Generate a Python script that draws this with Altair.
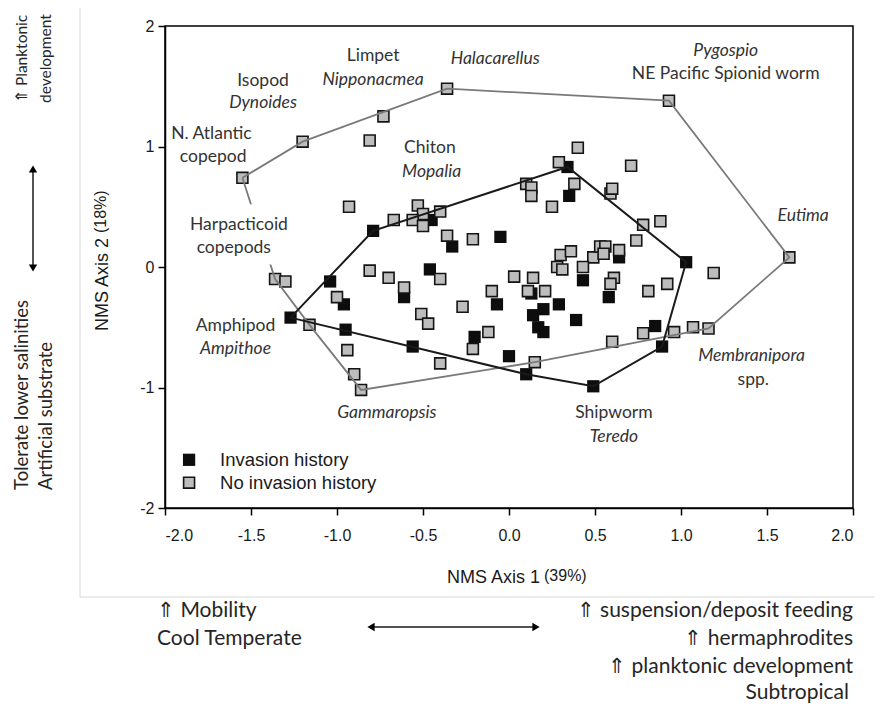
import altair as alt
import pandas as pd

# ---------------- data ----------------
gray_x = [-1.55, -1.20, -0.73, -0.36, 0.93, 1.63, 1.16, 1.07, -0.86, -0.90, -0.94, -1.16,
          -1.36, -1.30, -0.81, -0.93, -0.67, -0.53, -0.50, -0.56, -0.50, -0.40, -0.36, -0.21,
          -0.81, -0.70, -0.61, -0.40, -1.00, -0.27, -0.51, -0.47, -0.40, -0.21, -0.12, 0.15,
          0.40, 0.29, 0.71, 0.10, 0.13, 0.13, 0.38, 0.25, 0.59, 0.60, 0.78, 0.88,
          0.74, 1.19, 0.30, 0.36, 0.28, 0.31, 0.49, 0.53, 0.56, 0.55, 0.64, 0.43,
          0.61, 0.59, 0.92, 0.81, 0.03, 0.14, -0.10, 0.11, 0.21, 0.60, 0.78, 0.96]
gray_y = [0.74, 1.04, 1.25, 1.48, 1.38, 0.08, -0.51, -0.50, -1.02, -0.89, -0.69, -0.48,
          -0.10, -0.12, 1.05, 0.50, 0.39, 0.51, 0.44, 0.39, 0.34, 0.46, 0.26, 0.23,
          -0.03, -0.09, -0.17, -0.10, -0.25, -0.33, -0.39, -0.47, -0.80, -0.68, -0.54, -0.79,
          0.99, 0.87, 0.84, 0.69, 0.66, 0.59, 0.69, 0.50, 0.61, 0.65, 0.35, 0.38,
          0.22, -0.05, 0.10, 0.13, 0.00, -0.02, 0.08, 0.17, 0.17, 0.11, 0.14, 0.00,
          -0.09, -0.14, -0.14, -0.20, -0.08, -0.09, -0.20, -0.20, -0.20, -0.62, -0.55, -0.54]

black_x = [-1.27, -0.79, 0.34, 1.03, 0.89, 0.49, 0.10, -0.56, -0.95, -1.04, -0.45, -0.33,
           -0.05, -0.46, -0.61, -0.96, -0.20, 0.35, 0.64, 0.43, 0.58, -0.07, 0.20, 0.14,
           0.29, 0.39, 0.17, 0.20, 0.00, 0.85, 0.13]
black_y = [-0.42, 0.30, 0.83, 0.04, -0.66, -0.99, -0.89, -0.66, -0.52, -0.12, 0.39, 0.17,
           0.25, -0.02, -0.25, -0.31, -0.58, 0.59, 0.08, -0.11, -0.25, -0.31, -0.35, -0.40,
           -0.31, -0.44, -0.50, -0.54, -0.74, -0.49, -0.22]

x_ticks = [-2.0, -1.5, -1.0, -0.5, 0.0, 0.5, 1.0, 1.5, 2.0]
y_ticks = [-2, -1, 0, 1, 2]

# species annotations (data units)
lab_text = ["Isopod", "Dynoides", "Limpet", "Nipponacmea", "Halacarellus", "N. Atlantic",
            "copepod", "Chiton", "Mopalia", "Harpacticoid", "copepods", "Pygospio",
            "NE Pacific Spionid worm", "Eutima", "Amphipod", "Ampithoe", "Gammaropsis",
            "Membranipora", "spp.", "Shipworm", "Teredo"]
lab_x = [-1.43, -1.43, -0.79, -0.79, -0.08, -1.73, -1.72, -0.46, -0.45, -1.57, -1.60,
         1.26, 1.26, 1.71, -1.59, -1.59, -0.71, 1.41, 1.42, 0.61, 0.61]
lab_y = [1.54, 1.36, 1.75, 1.55, 1.73, 1.10, 0.91, 0.99, 0.79, 0.35, 0.16,
         1.79, 1.60, 0.42, -0.49, -0.68, -1.21, -0.74, -0.94, -1.21, -1.41]
lab_italic = [False, True, False, True, True, False, False, False, True, False, False,
              True, False, True, False, True, True, True, False, False, True]


# ---------------- helpers ----------------
def convex_hull(xs, ys):
    pts = sorted(set(zip(xs, ys)))

    def cross(o, a, b):
        return (a[0] - o[0]) * (b[1] - o[1]) - (a[1] - o[1]) * (b[0] - o[0])

    lower, upper = [], []
    for p in pts:
        while len(lower) >= 2 and cross(lower[-2], lower[-1], p) <= 0:
            lower.pop()
        lower.append(p)
    for p in reversed(pts):
        while len(upper) >= 2 and cross(upper[-2], upper[-1], p) <= 0:
            upper.pop()
        upper.append(p)
    h = lower[:-1] + upper[:-1]
    h.append(h[0])
    return pd.DataFrame({"x": [p[0] for p in h], "y": [p[1] for p in h], "o": list(range(len(h)))})


sx = alt.Scale(domain=[-2, 2], nice=False, zero=False)
sy = alt.Scale(domain=[-2, 2], nice=False, zero=False)

AX = dict(labelFont="Liberation Sans", labelFontSize=16, labelColor="#1a1a1a",
          tickColor="black", tickWidth=1.5, tickSize=7, domainColor="black",
          domainWidth=1.5, grid=False, title=None)

xaxis = alt.Axis(values=x_ticks, labelPadding=12,
                 labelExpr="datum.value < 0 ? '-' + format(-datum.value, '.1f') : format(datum.value, '.1f')",
                 **AX)
yaxis = alt.Axis(values=y_ticks, labelPadding=4,
                 labelExpr="datum.value < 0 ? '-' + format(-datum.value, 'd') : format(datum.value, 'd')",
                 **AX)


def X(field="x:Q"):
    return alt.X(field, scale=sx, axis=xaxis)


def Y(field="y:Q"):
    return alt.Y(field, scale=sy, axis=yaxis)


gray_df = pd.DataFrame({"x": gray_x, "y": gray_y})
black_df = pd.DataFrame({"x": black_x, "y": black_y})
lab_df = pd.DataFrame({"t": lab_text, "x": lab_x, "y": lab_y, "it": lab_italic})

layers = []

# black points, then gray points
layers.append(alt.Chart(black_df).mark_square(size=150, filled=True, color="#0d0d0d", opacity=1)
              .encode(x=X(), y=Y()))
layers.append(alt.Chart(gray_df).mark_square(size=120, filled=True, fill="#bdbdbd", stroke="#141414",
                                             strokeWidth=1.6, opacity=1)
              .encode(x=X(), y=Y()))

# hulls
layers.append(alt.Chart(convex_hull(gray_x, gray_y)).mark_line(color="#7a7a7a", strokeWidth=1.8)
              .encode(x=X(), y=Y(), order="o:Q"))
layers.append(alt.Chart(convex_hull(black_x, black_y)).mark_line(color="#1a1a1a", strokeWidth=2)
              .encode(x=X(), y=Y(), order="o:Q"))

# white patch behind the Harpacticoid label (hides the hull line as in the original)
patch = pd.DataFrame({"x": [-1.53], "x2": [-1.33], "y": [0.52], "y2": [0.02]})
layers.append(alt.Chart(patch).mark_rect(color="white", opacity=1)
              .encode(x=X(), x2="x2:Q", y=Y(), y2="y2:Q"))

# species labels
layers.append(alt.Chart(lab_df).transform_filter("!datum.it")
              .mark_text(font="Lato", fontSize=17.5, color="#333333", baseline="middle")
              .encode(x=X(), y=Y(), text="t:N"))
layers.append(alt.Chart(lab_df).transform_filter("datum.it")
              .mark_text(font="Lato", fontSize=17.5, fontStyle="italic", color="#333333", baseline="middle")
              .encode(x=X(), y=Y(), text="t:N"))

# legend (manual)
leg = pd.DataFrame({"x": [-1.86, -1.86], "y": [-1.60, -1.79],
                    "t": ["Invasion history", "No invasion history"], "tx": [-1.68, -1.68]})
layers.append(alt.Chart(leg.iloc[[0]]).mark_square(size=150, filled=True, color="#0d0d0d", opacity=1)
              .encode(x=X(), y=Y()))
layers.append(alt.Chart(leg.iloc[[1]]).mark_square(size=120, filled=True, fill="#bdbdbd", stroke="#141414",
                                                   strokeWidth=1.6, opacity=1)
              .encode(x=X(), y=Y()))
layers.append(alt.Chart(leg).mark_text(font="Liberation Sans", fontSize=18.5, align="left",
                                       baseline="middle", color="#1a1a1a")
              .encode(x=X("tx:Q"), y=Y(), text="t:N"))

# ---------------- outer annotations (pixel positions relative to plot area) ----------------
one = pd.DataFrame({"a": [0]})


def ptext(txt, px, py, size=17, font="Lato", align="left", angle=0, color="#262626"):
    kw = dict(font=font, fontSize=size, align=align, baseline="middle", color=color)
    if angle:
        kw["angle"] = angle
    return alt.Chart(one).mark_text(**kw).encode(
        x=alt.value(px), y=alt.value(py), text=alt.value(txt))


# faint chart-area border
layers.append(alt.Chart(one).mark_rule(color="#d6d6d6", strokeWidth=1)
              .encode(x=alt.value(-85), y=alt.value(-26), y2=alt.value(571)))
layers.append(alt.Chart(one).mark_rule(color="#d6d6d6", strokeWidth=1)
              .encode(x=alt.value(-85), x2=alt.value(712), y=alt.value(571)))

# axis titles
layers.append(ptext("NMS Axis 1", 375, 552, size=18, font="Liberation Sans", align="right", color="#1a1a1a"))
layers.append(ptext("(39%)", 379, 550, size=16, font="Liberation Sans", color="#1a1a1a"))
layers.append(ptext("NMS Axis 2", -62, 305, size=18, font="Liberation Sans", angle=270, color="#1a1a1a"))
layers.append(ptext("(18%)", -64, 207, size=16, font="Liberation Sans", angle=270, color="#1a1a1a"))

# left side descriptors
layers.append(ptext("\u21d1 Planktonic", -143, 77, size=15.5, angle=270))
layers.append(ptext("development", -119, 77, size=15.5, angle=270))
layers.append(ptext("Tolerate lower salinities", -143, 464, size=18.5, angle=270))
layers.append(ptext("Artificial substrate", -119, 464, size=18.5, angle=270))

# vertical double arrow
layers.append(alt.Chart(one).mark_rule(color="#1a1a1a", strokeWidth=1.5)
              .encode(x=alt.value(-132), y=alt.value(143), y2=alt.value(242)))
layers.append(alt.Chart(one).mark_point(shape="triangle-up", filled=True, size=70, color="black", opacity=1)
              .encode(x=alt.value(-132), y=alt.value(143)))
layers.append(alt.Chart(one).mark_point(shape="triangle-down", filled=True, size=70, color="black", opacity=1)
              .encode(x=alt.value(-132), y=alt.value(242)))

# bottom descriptors
layers.append(ptext("\u21d1 Mobility", -8, 585, size=21))
layers.append(ptext("Cool Temperate", -8, 613, size=21))
layers.append(ptext("\u21d1 suspension/deposit feeding", 688, 585, size=21, align="right"))
layers.append(ptext("\u21d1 hermaphrodites", 688, 613, size=21, align="right"))
layers.append(ptext("\u21d1 planktonic development", 688, 641, size=21, align="right"))
layers.append(ptext("Subtropical", 684, 667, size=21, align="right"))

# horizontal double arrow
layers.append(alt.Chart(one).mark_rule(color="#1a1a1a", strokeWidth=1.5)
              .encode(x=alt.value(206), x2=alt.value(371), y=alt.value(601)))
layers.append(alt.Chart(one).mark_point(shape="triangle-left", filled=True, size=70, color="black", opacity=1)
              .encode(x=alt.value(206), y=alt.value(601)))
layers.append(alt.Chart(one).mark_point(shape="triangle-right", filled=True, size=70, color="black", opacity=1)
              .encode(x=alt.value(371), y=alt.value(601)))

chart = alt.layer(*layers).properties(
    width=688, height=482,
    padding={"left": 157, "top": 18, "right": 22, "bottom": 195},
    autosize=alt.AutoSizeParams(type="none"),
    background="white",
).configure_view(stroke="black", strokeWidth=1.5)

chart.save("out.html", embed_options={"renderer": "svg", "actions": False})
